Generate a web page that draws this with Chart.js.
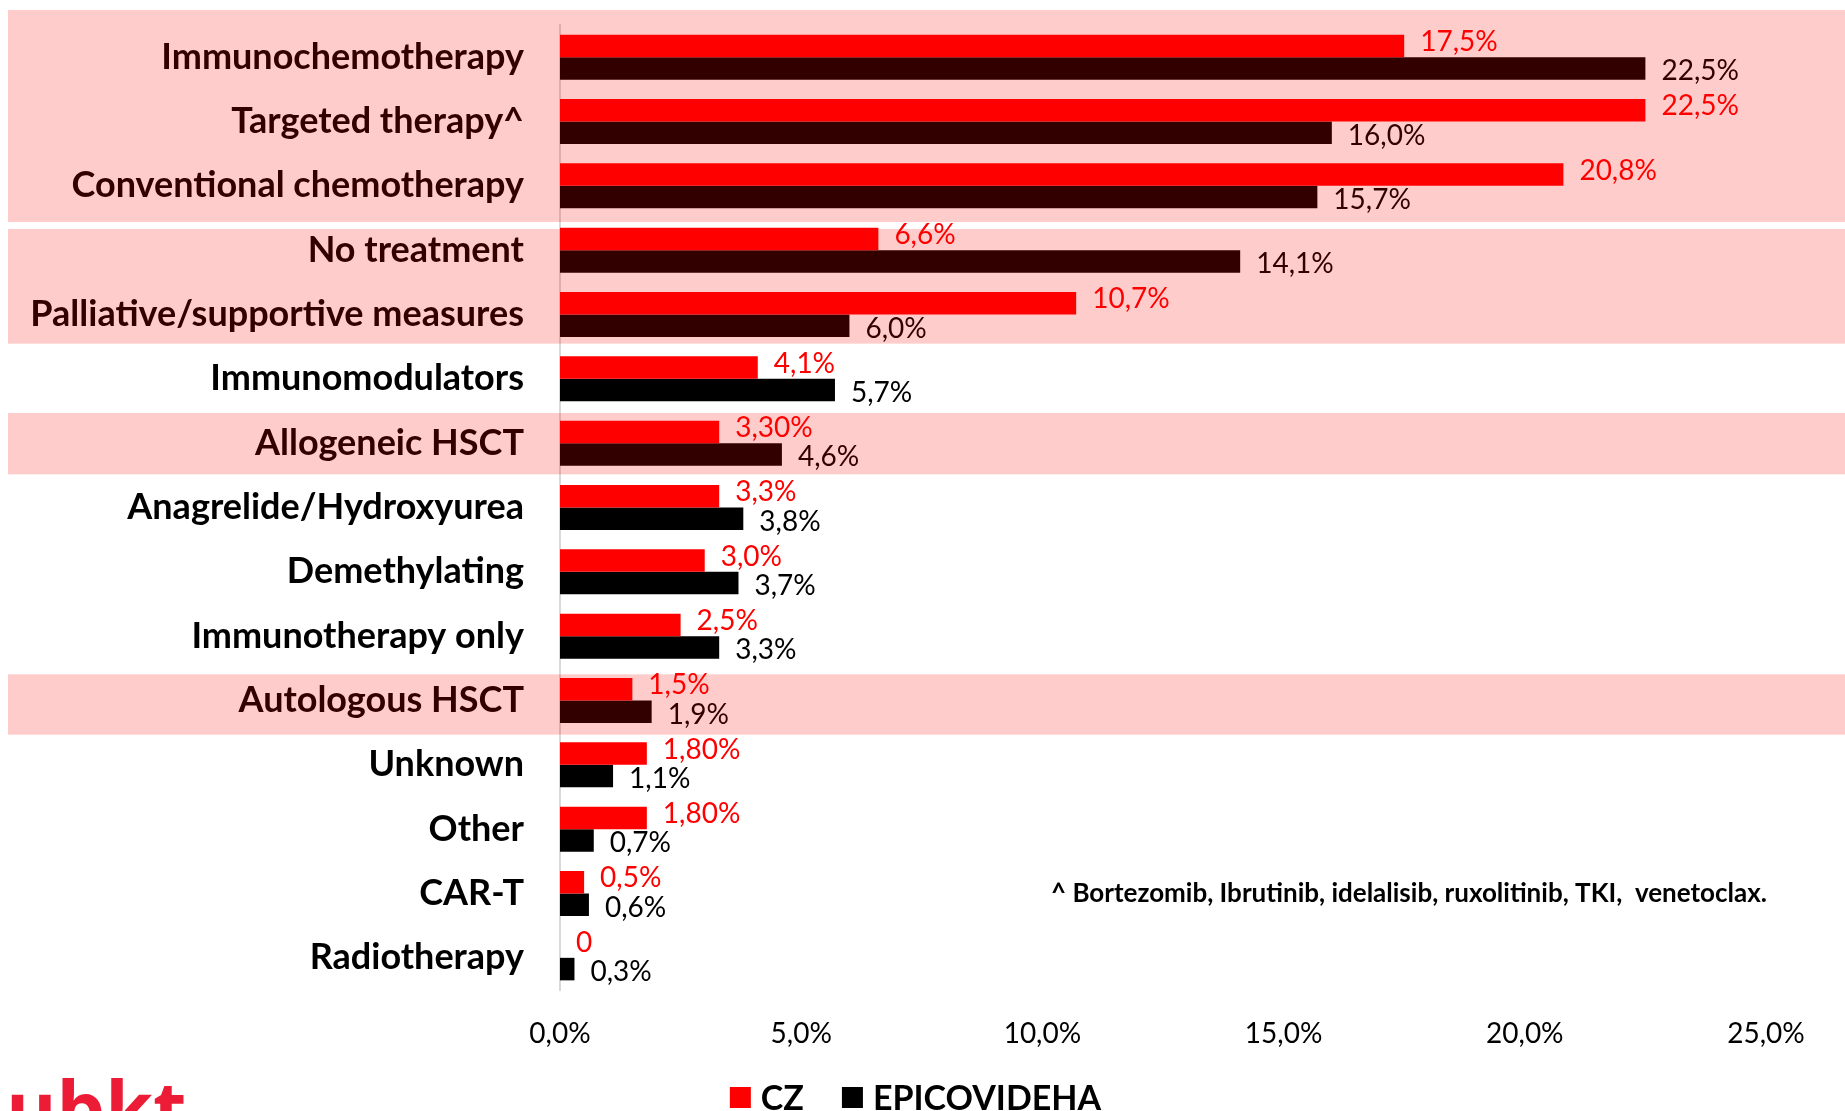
<!DOCTYPE html>
<html>
<head>
<meta charset="utf-8">
<script src="https://cdn.jsdelivr.net/npm/chart.js@4.4.1/dist/chart.umd.min.js"></script>
<style>
html,body{margin:0;padding:0;background:#ffffff;overflow:hidden}
#wrap{position:relative;width:1845px;height:1111px}
</style>
</head>
<body>
<div id="wrap"><canvas id="c" width="1845" height="1111"></canvas></div>
<script>
const categories = ["Immunochemotherapy","Targeted therapy^","Conventional chemotherapy","No treatment","Palliative/supportive measures","Immunomodulators","Allogeneic HSCT","Anagrelide/Hydroxyurea","Demethylating","Immunotherapy only","Autologous HSCT","Unknown","Other","CAR-T","Radiotherapy"];
const seriesNames = ["CZ","EPICOVIDEHA"];
const czValues  = [17.5,22.5,20.8,6.6,10.7,4.1,3.3,3.3,3.0,2.5,1.5,1.8,1.8,0.5,0];
const czLabels  = ["17,5%","22,5%","20,8%","6,6%","10,7%","4,1%","3,30%","3,3%","3,0%","2,5%","1,5%","1,80%","1,80%","0,5%","0"];
const epiValues = [22.5,16.0,15.7,14.1,6.0,5.7,4.6,3.8,3.7,3.3,1.9,1.1,0.7,0.6,0.3];
const epiLabels = ["22,5%","16,0%","15,7%","14,1%","6,0%","5,7%","4,6%","3,8%","3,7%","3,3%","1,9%","1,1%","0,7%","0,6%","0,3%"];
const xTicks = [0,5,10,15,20,25];
const highlightGroups = [[0,2],[3,4],[6,6],[10,10]];
const footnote = "^ Bortezomib, Ibrutinib, idelalisib, ruxolitinib, TKI,  venetoclax.";
const logoText = "ubkt";

const seriesLabels = [czLabels, epiLabels];

const decorPlugin = {
  id: 'decor',
  afterDatasetsDraw(chart) {
    const ctx = chart.ctx;
    ctx.save();
    ctx.font = '28px Lato';
    ctx.textAlign = 'left';
    ctx.textBaseline = 'middle';
    chart.data.datasets.forEach((ds, di) => {
      const meta = chart.getDatasetMeta(di);
      const dy = di === 0 ? -4 : 3;
      ctx.fillStyle = ds.labelColor;
      meta.data.forEach((bar, i) => {
        ctx.fillText(seriesLabels[di][i], bar.x + 16, bar.y + dy);
      });
    });
    ctx.restore();
  },
  afterDraw(chart) {
    const ctx = chart.ctx;
    const y = chart.scales.y;
    const step = y.getPixelForValue(1) - y.getPixelForValue(0);
    const pads = [[-15, 4], [11, -3], [2, -1], [6, 2]];
    ctx.save();
    ctx.fillStyle = 'rgba(255,0,0,0.2)';
    highlightGroups.forEach((g, k) => {
      const top = y.getPixelForValue(g[0]) - step / 2 + pads[k][0];
      const bot = y.getPixelForValue(g[1]) + step / 2 + pads[k][1];
      ctx.fillRect(8, top, chart.width - 8, bot - top);
    });
    ctx.restore();

    // footnote
    ctx.save();
    ctx.font = 'bold 26px Lato';
    ctx.fillStyle = '#000000';
    ctx.textAlign = 'left';
    ctx.textBaseline = 'alphabetic';
    ctx.fillText(footnote, 1051, 902);
    ctx.restore();

    // legend
    ctx.save();
    ctx.font = 'bold 34px Lato';
    ctx.textBaseline = 'alphabetic';
    ctx.textAlign = 'left';
    const box = 21, gap = 10, itemGap = 38;
    const widths = chart.data.datasets.map(d => ctx.measureText(d.label).width);
    let total = 0;
    widths.forEach((w, i) => { total += box + gap + w + (i < widths.length - 1 ? itemGap : 0); });
    let x = chart.width / 2 - 7 - total / 2;
    chart.data.datasets.forEach((d, i) => {
      ctx.fillStyle = d.backgroundColor;
      ctx.fillRect(x, 1087, box, box);
      x += box + gap;
      ctx.fillStyle = '#000000';
      ctx.fillText(d.label, x, 1110);
      x += widths[i] + itemGap;
    });
    ctx.restore();

    // logo text (cropped at bottom)
    ctx.save();
    ctx.font = 'bold 77px "Open Sans"';
    ctx.fillStyle = '#ED1C36';
    ctx.textAlign = 'left';
    ctx.textBaseline = 'alphabetic';
    ctx.fillText(logoText, 6, 1137);
    ctx.restore();
  }
};

new Chart(document.getElementById('c'), {
  type: 'bar',
  data: {
    labels: categories,
    datasets: [
      { label: seriesNames[0], data: czValues, backgroundColor: '#FF0000', labelColor: '#FF0000',
        categoryPercentage: 0.7, barPercentage: 1.0 },
      { label: seriesNames[1], data: epiValues, backgroundColor: '#000000', labelColor: '#000000',
        categoryPercentage: 0.7, barPercentage: 1.0 }
    ]
  },
  options: {
    indexAxis: 'y',
    responsive: false,
    animation: false,
    devicePixelRatio: 1,
    layout: { padding: { top: 25, right: 79, left: 0, bottom: 0 } },
    plugins: { legend: { display: false }, tooltip: { enabled: false } },
    scales: {
      x: {
        min: 0, max: 25,
        grid: { display: false, drawTicks: false },
        border: { display: false },
        afterBuildTicks(scale) { scale.ticks = xTicks.map(v => ({ value: v })); },
        afterFit(scale) { scale.height = 121; scale.paddingTop = 0; scale.paddingBottom = 0; },
        ticks: {
          padding: 27,
          color: '#000000',
          font: { family: 'Lato', size: 28 },
          callback: v => v.toFixed(1).replace('.', ',') + '%'
        }
      },
      y: {
        grid: { display: false, drawTicks: false },
        border: { display: true, color: '#d9d9d9', width: 2 },
        afterFit(scale) { scale.width = 560; scale.paddingTop = 0; scale.paddingBottom = 0; },
        ticks: {
          padding: 36,
          color: '#000000',
          font: { family: 'Lato', size: 36, weight: 'bold' }
        }
      }
    }
  },
  plugins: [decorPlugin]
});
</script>
</body>
</html>
